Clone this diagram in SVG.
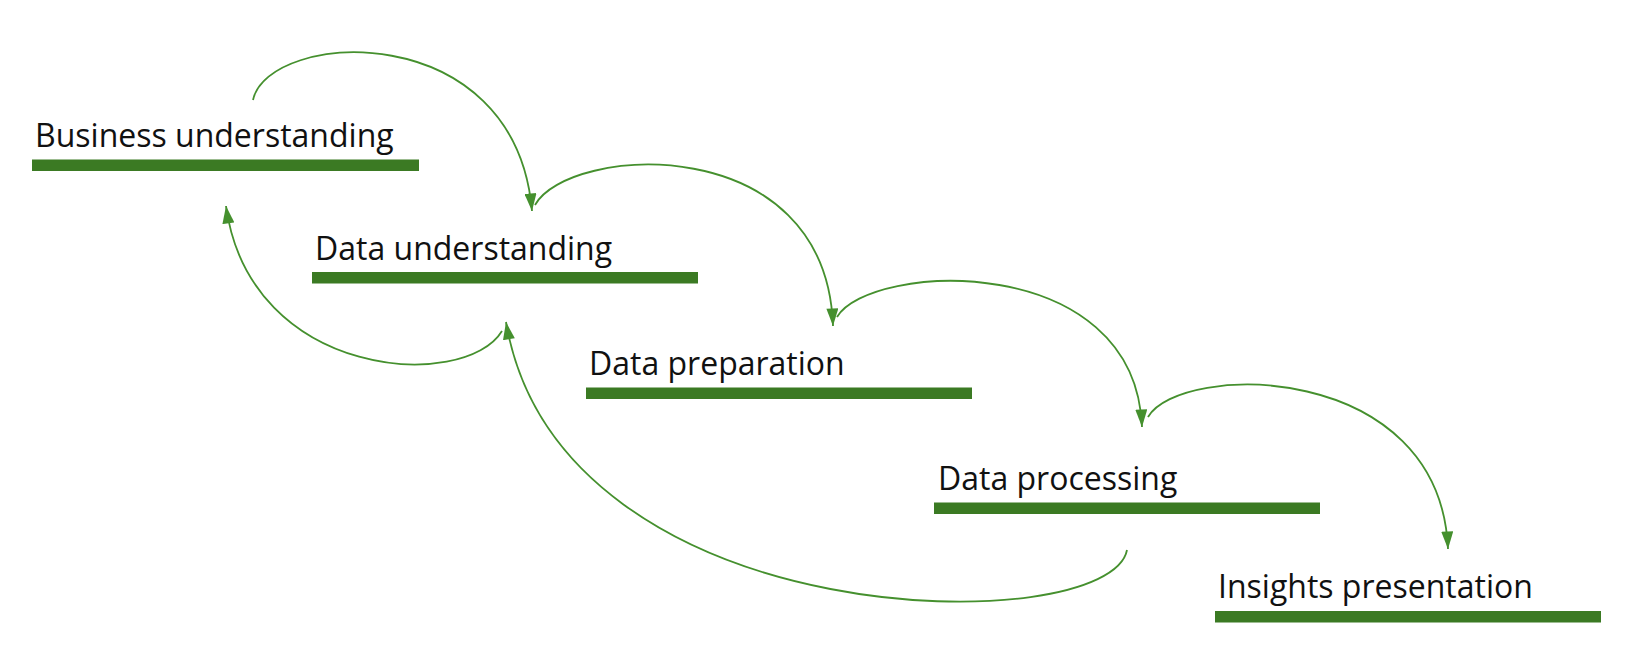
<svg xmlns="http://www.w3.org/2000/svg" width="1627" height="662" viewBox="0 0 1627 662">
<style>
.lbl{font-family:"Open Sans","Noto Sans","Liberation Sans",sans-serif;font-size:32px;fill:#111111}
.bar{fill:#3b7a23}
.arc{fill:none;stroke:#45902e;stroke-width:1.8}
</style>
<defs>
<marker id="ah" markerUnits="userSpaceOnUse" markerWidth="18" markerHeight="12" viewBox="0 0 16 11" refX="16" refY="5.5" orient="auto">
<path d="M0,0 L16,5.5 L0,11 Z" fill="#45902e"/>
</marker>
</defs>
<rect width="1627" height="662" fill="#ffffff"/>
<g id="business-understanding">
<text class="lbl" x="35" y="146.5">Business understanding</text>
<rect class="bar" x="32" y="159.5" width="387" height="11.5"/>
</g>
<g id="data-understanding">
<text class="lbl" x="315" y="259.5">Data understanding</text>
<rect class="bar" x="312" y="272" width="386" height="11.5"/>
</g>
<g id="data-preparation">
<text class="lbl" x="589" y="374.5">Data preparation</text>
<rect class="bar" x="586" y="387.5" width="386" height="11.5"/>
</g>
<g id="data-processing">
<text class="lbl" x="938" y="490">Data processing</text>
<rect class="bar" x="934" y="502.5" width="386" height="11.5"/>
</g>
<g id="insights-presentation">
<text class="lbl" x="1218" y="598">Insights presentation</text>
<rect class="bar" x="1215" y="611" width="386" height="11.5"/>
</g>
<g id="connectors">
<path class="arc" marker-end="url(#ah)" d="M253,100 C268,30 515,15 532,211"/>
<path class="arc" marker-end="url(#ah)" d="M535,205 C568,145 826,128 833,326"/>
<path class="arc" marker-end="url(#ah)" d="M837,317 C870,262 1135,250 1142,427"/>
<path class="arc" marker-end="url(#ah)" d="M1148,417 C1180,362 1440,360 1448,549"/>
<path class="arc" marker-end="url(#ah)" d="M502,331 C465,392 250,380 226,206"/>
<path class="arc" marker-end="url(#ah)" d="M1127,550 C1110,640 560,640 506,322"/>
</g>
</svg>
